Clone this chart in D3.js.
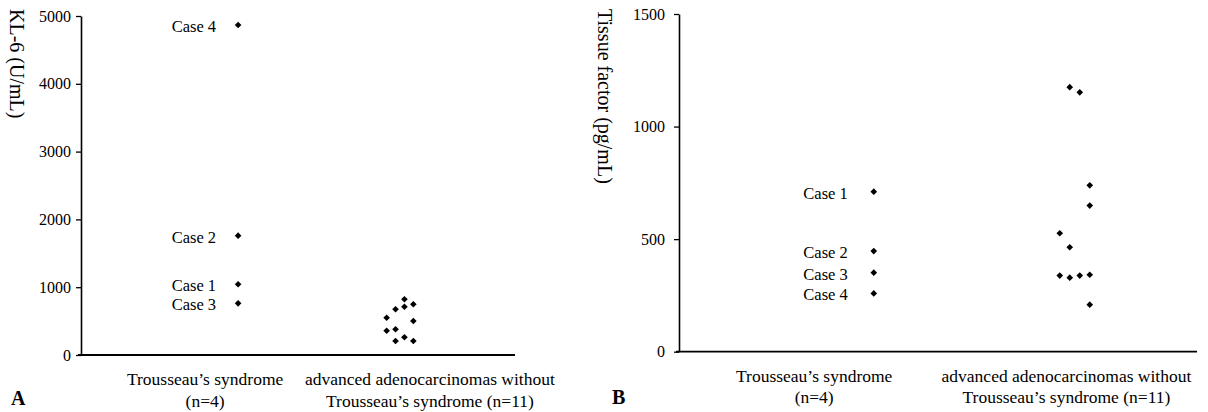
<!DOCTYPE html>
<html><head><meta charset="utf-8">
<script src="https://cdn.jsdelivr.net/npm/d3@7"></script>
<style>
html,body{margin:0;padding:0;background:#fff;}
svg{display:block;font-family:"Liberation Serif","Times New Roman",serif;}
</style></head>
<body><svg id="chart" width="1208" height="412"></svg>
<script>
// ---------- data ----------
const caseLabels = ["Case 1", "Case 2", "Case 3", "Case 4"];
const groupLabelsLine1 = ["Trousseau\u2019s syndrome", "advanced adenocarcinomas without"];
const groupLabelsLine2 = ["(n=4)", "Trousseau\u2019s syndrome (n=11)"];

const klTicks = [0, 1000, 2000, 3000, 4000, 5000];
const klTrousseau = [1043, 1760, 762, 4867];
const klAdvanced = [822, 674, 712, 748, 550, 501, 358, 379, 206, 261, 206];
const klAdvancedCol = [2, 1, 2, 3, 0, 3, 0, 1, 1, 2, 3];

const tfTicks = [0, 500, 1000, 1500];
const tfTrousseau = [711, 447, 351, 259];
const tfAdvanced = [1175, 1152, 739, 649, 526, 464, 338, 329, 338, 342, 209];
const tfAdvancedCol = [1, 2, 3, 3, 0, 1, 0, 1, 2, 3, 3];

// ---------- layout ----------
const svg = d3.select("#chart");
const diamond = d3.symbol().type(d3.symbolSquare).size(22);

function panel(cfg) {
  const g = svg.append("g");
  const y = d3.scaleLinear().domain([0, cfg.max]).range([cfg.y0, cfg.y1]);
  const x = d3.scaleLinear().domain([0, 1]).range([cfg.x0, cfg.x1]);

  // y axis
  const ax = g.append("g").attr("transform", `translate(${cfg.x0},0)`)
    .call(d3.axisLeft(y).tickValues(cfg.ticks).tickSize(5).tickSizeOuter(0).tickPadding(cfg.tickPad).tickFormat(d3.format("d")));
  ax.select(".domain").attr("stroke", "#000").attr("stroke-width", 1.6);
  ax.selectAll(".tick line").attr("stroke", "#000").attr("stroke-width", 1.3);
  ax.selectAll(".tick text").attr("font-size", 16).attr("fill", "#000")
    .attr("font-family", "Liberation Serif");

  // x axis baseline
  g.append("line").attr("x1", cfg.x0 - 3).attr("x2", cfg.x1)
    .attr("y1", y(0)).attr("y2", y(0)).attr("stroke", "#000").attr("stroke-width", 1.8);

  // y title
  g.append("text").attr("transform", `translate(${cfg.titleX},${cfg.titleY}) rotate(90)`)
    .attr("text-anchor", "start").attr("dominant-baseline", "central")
    .attr("font-size", 20).attr("fill", "#000").text(cfg.title);

  // group labels
  cfg.labelPos.forEach((p, i) => {
    g.append("text").attr("x", x(p)).attr("y", y(0) + cfg.lab1)
      .attr("text-anchor", "middle").attr("font-size", 17.5).attr("fill", "#000")
      .text(groupLabelsLine1[i]);
    g.append("text").attr("x", x(p)).attr("y", y(0) + cfg.lab2)
      .attr("text-anchor", "middle").attr("font-size", 17.5).attr("fill", "#000")
      .text(groupLabelsLine2[i]);
  });

  // panel letter
  g.append("text").attr("x", cfg.letterX).attr("y", cfg.letterY)
    .attr("font-size", 20).attr("font-weight", "bold").attr("fill", "#000").text(cfg.letter);

  // Trousseau points
  const px = x(cfg.ptPos[0]);
  g.selectAll(".t").data(cfg.trousseau).enter().append("path")
    .attr("d", diamond)
    .attr("transform", d => `translate(${px},${y(d)}) rotate(45)`)
    .attr("fill", "#000");
  g.selectAll(".tl").data(cfg.trousseau).enter().append("text")
    .attr("x", px - cfg.caseGap).attr("y", d => y(d) + 1.5)
    .attr("text-anchor", "end").attr("dominant-baseline", "central")
    .attr("font-size", 16.5).attr("fill", "#000")
    .text((d, i) => caseLabels[i]);

  // advanced points
  const cx = x(cfg.ptPos[1]);
  g.selectAll(".a").data(cfg.advanced).enter().append("path")
    .attr("d", diamond)
    .attr("transform", (d, i) => `translate(${cx + (cfg.cols[i] - 1.5) * cfg.colStep},${y(d)}) rotate(45)`)
    .attr("fill", "#000");
}

panel({
  max: 5000, ticks: klTicks, trousseau: klTrousseau, advanced: klAdvanced, cols: klAdvancedCol,
  x0: 81, x1: 515, y0: 355, y1: 16, tickPad: 5,
  title: "KL-6 (U/mL)", titleX: 17, titleY: 9,
  labelPos: [0.286, 0.804], ptPos: [0.362, 0.735], colStep: 8.9, caseGap: 22,
  lab1: 30, lab2: 52, letter: "A", letterX: 11, letterY: 405
});

panel({
  max: 1500, ticks: tfTicks, trousseau: tfTrousseau, advanced: tfAdvanced, cols: tfAdvancedCol,
  x0: 679, x1: 1197, y0: 351.7, y1: 14, tickPad: 9,
  title: "Tissue factor (pg/mL)", titleX: 605, titleY: 9,
  labelPos: [0.261, 0.748], ptPos: [0.376, 0.764], colStep: 10, caseGap: 26,
  lab1: 30, lab2: 51, letter: "B", letterX: 612, letterY: 404
});
</script>
</body></html>
